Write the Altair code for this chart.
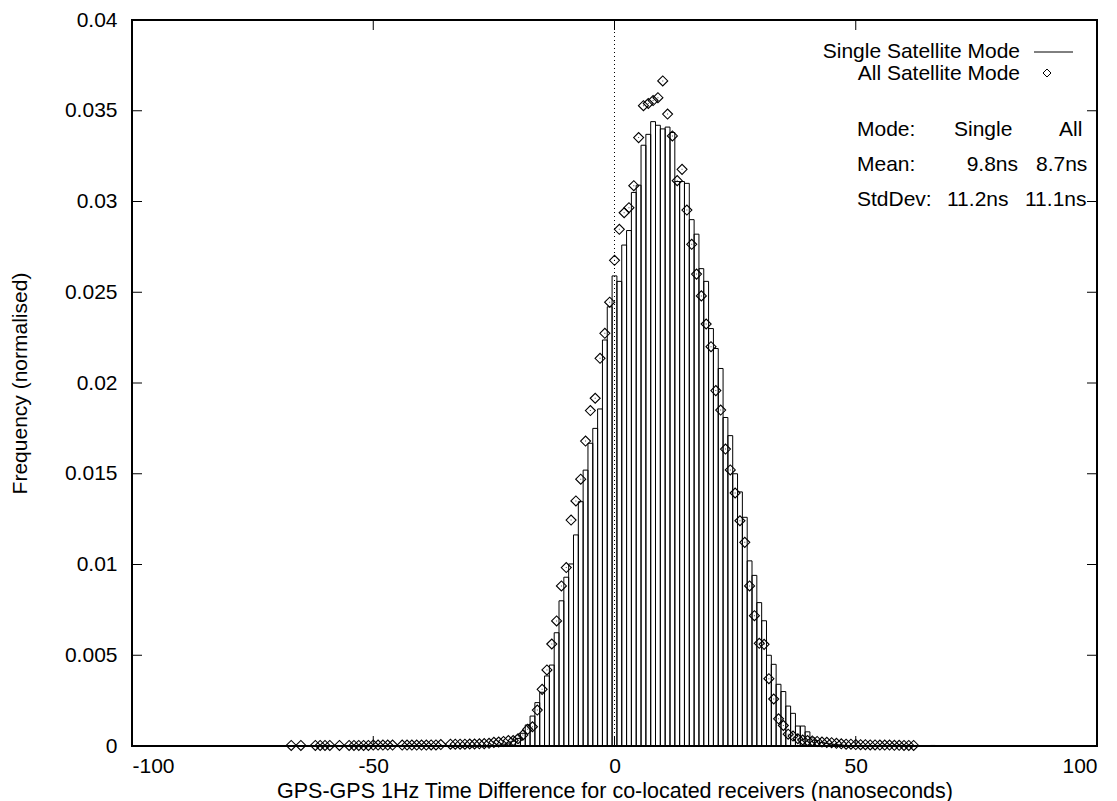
import altair as alt
import pandas as pd

# ---------------- data ----------------
single_ns = list(range(-25, 49)) + [66]
single_freq = [
    0.00003, 0.00005, 0.00010, 0.00016, 0.00026,            # -25..-21
    0.00042, 0.00070, 0.00116, 0.00165, 0.00239,            # -20..-16
    0.00296, 0.00386, 0.00446, 0.00624, 0.00800,            # -15..-11
    0.00930, 0.01003, 0.01163, 0.01346, 0.01520,            # -10..-6
    0.01668, 0.01750, 0.01857, 0.02237, 0.02420,            # -5..-1
    0.02590, 0.02560, 0.02760, 0.02840, 0.03050,            # 0..4
    0.03090, 0.03310, 0.03370, 0.03440, 0.03420,            # 5..9
    0.03400, 0.03410, 0.03380, 0.03110, 0.03110,            # 10..14
    0.03100, 0.02900, 0.02820, 0.02630, 0.02560,            # 15..19
    0.02300, 0.02190, 0.02080, 0.01810, 0.01710,            # 20..24
    0.01500, 0.01400, 0.01260, 0.01020, 0.00940,            # 25..29
    0.00790, 0.00690, 0.00500, 0.00450, 0.00340,            # 30..34
    0.00300, 0.00220, 0.00180, 0.00110, 0.00110,            # 35..39
    0.00078, 0.00045, 0.00030, 0.00020, 0.00015,            # 40..44
    0.00010, 0.00007, 0.00005, 0.00003,                     # 45..48
    0.00003,                                                # 66
]

all_ns = [-67, -65, -62, -61, -60, -59, -57, -55, -54, -53, -52, -51,
          -50, -49, -48, -47, -46, -44, -43, -42, -41, -40, -39, -38, -37,
          -36, -34, -33, -32, -31, -30, -29, -28, -27, -26, -25, -24, -23,
          -22, -21] + list(range(-20, 63))
all_freq = [
    0.00003, 0.00003, 0.00003, 0.00003, 0.00003, 0.00003, 0.00003, 0.00003,
    0.00003, 0.00003, 0.00003, 0.00003,
    0.00005, 0.00005, 0.00005, 0.00005, 0.00005, 0.00005, 0.00005, 0.00005,
    0.00005, 0.00005, 0.00005, 0.00006, 0.00006,
    0.00008, 0.00010, 0.00010, 0.00010, 0.00010, 0.00011, 0.00011, 0.00012,
    0.00013, 0.00015, 0.00020, 0.00022, 0.00025,
    0.00030, 0.00030,
    0.00040, 0.00060, 0.00092, 0.00106, 0.00198,            # -20..-16
    0.00312, 0.00419, 0.00562, 0.00689, 0.00882,            # -15..-11
    0.00983, 0.01245, 0.01350, 0.01470, 0.01680,            # -10..-6
    0.01848, 0.01916, 0.02136, 0.02274, 0.02445,            # -5..-1
    0.02676, 0.02847, 0.02938, 0.02966, 0.03087,            # 0..4
    0.03352, 0.03528, 0.03540, 0.03556, 0.03572,            # 5..9
    0.03664, 0.03482, 0.03361, 0.03115, 0.03177,            # 10..14
    0.02953, 0.02764, 0.02600, 0.02480, 0.02325,            # 15..19
    0.02200, 0.01958, 0.01851, 0.01636, 0.01521,            # 20..24
    0.01394, 0.01241, 0.01122, 0.00882, 0.00718,            # 25..29
    0.00566, 0.00560, 0.00371, 0.00259, 0.00150,            # 30..34
    0.00113, 0.00065, 0.00055, 0.00040, 0.00033,            # 35..39
    0.00030, 0.00028, 0.00025, 0.00022, 0.00020,            # 40..44
    0.00018, 0.00015, 0.00012, 0.00010, 0.00010,            # 45..49
    0.00008, 0.00007, 0.00007, 0.00006, 0.00006,            # 50..54
    0.00005, 0.00005, 0.00005, 0.00004, 0.00004,            # 55..59
    0.00003, 0.00003, 0.00003,                              # 60..62
]

x_ticks = [-100, -50, 0, 50, 100]
y_ticks = [0, 0.005, 0.01, 0.015, 0.02, 0.025, 0.03, 0.035, 0.04]

x_title = "GPS-GPS 1Hz Time Difference for co-located receivers (nanoseconds)"
y_title = "Frequency (normalised)"
legend_labels = ["Single Satellite Mode", "All Satellite Mode"]
stats_rows = [["Mode:", "Single", "All"],
              ["Mean:", "9.8ns", "8.7ns"],
              ["StdDev:", "11.2ns", "11.1ns"]]

# ---------------- layout ----------------
W, H = 965, 726
FONT = "Liberation Sans"
FS = 21
TICK = 10

xs = alt.Scale(domain=[-100, 100], nice=False, zero=False)
ys = alt.Scale(domain=[0, 0.04], nice=False, zero=False)

single_df = pd.DataFrame({"ns": single_ns, "freq": single_freq})
all_df = pd.DataFrame({"ns": all_ns, "freq": all_freq})

x_axis = alt.Axis(
    values=x_ticks, title=x_title, labelExpr="toString(datum.value)",
    labelPadding=9, labelBaseline="top", titleX=W / 2, titleY=51,
    titleAlign="center", titleBaseline="alphabetic", titleFontSize=21.5)
y_axis = alt.Axis(
    values=y_ticks, title=y_title, labelExpr="toString(datum.value)",
    labelPadding=15, titleX=-112, titleY=H / 2, titleAngle=270,
    titleAlign="center", titleBaseline="middle")

bars = alt.Chart(single_df).transform_calculate(
    x0="datum.ns - 0.5", x1="datum.ns + 0.5", zero="0"
).mark_rect(fill="white", fillOpacity=0, stroke="black", strokeWidth=1).encode(
    x=alt.X("x0:Q", scale=xs, axis=x_axis),
    x2="x1:Q",
    y=alt.Y("freq:Q", scale=ys, axis=y_axis),
    y2="zero:Q",
)

zero_line = alt.Chart(pd.DataFrame({"v": [0]})).mark_rule(
    color="black", strokeWidth=1, strokeDash=[1, 3]
).encode(x=alt.X("v:Q", scale=xs), y=alt.value(0), y2=alt.value(H))

pts = alt.Chart(all_df).mark_point(
    shape="diamond", size=100, stroke="black", strokeWidth=1.1, filled=False, opacity=1
).encode(x=alt.X("ns:Q", scale=xs), y=alt.Y("freq:Q", scale=ys))

dots = alt.Chart(all_df).mark_point(
    shape="square", size=1, fill="black", filled=True, opacity=0.7
).encode(x=alt.X("ns:Q", scale=xs), y=alt.Y("freq:Q", scale=ys))

xt = pd.DataFrame({"t": x_ticks})
yt = pd.DataFrame({"t": y_ticks})
tick_bottom = alt.Chart(xt).mark_rule(color="black", strokeWidth=1).encode(
    x=alt.X("t:Q", scale=xs), y=alt.value(H), y2=alt.value(H - TICK))
tick_top = alt.Chart(xt).mark_rule(color="black", strokeWidth=1).encode(
    x=alt.X("t:Q", scale=xs), y=alt.value(0), y2=alt.value(TICK))
tick_left = alt.Chart(yt).mark_rule(color="black", strokeWidth=1).encode(
    y=alt.Y("t:Q", scale=ys), x=alt.value(0), x2=alt.value(TICK))
tick_right = alt.Chart(yt).mark_rule(color="black", strokeWidth=1).encode(
    y=alt.Y("t:Q", scale=ys), x=alt.value(W), x2=alt.value(W - TICK))


def txt(s, x, y, align="left"):
    return alt.Chart(pd.DataFrame({"s": [s]})).mark_text(
        font=FONT, fontSize=FS, color="black", align=align, baseline="alphabetic"
    ).encode(text="s:N", x=alt.value(x), y=alt.value(y))


legend_layers = [
    txt(legend_labels[0], 888, 38, "right"),
    txt(legend_labels[1], 888, 60, "right"),
    alt.Chart(pd.DataFrame({"a": [0]})).mark_rule(color="black", strokeWidth=1).encode(
        x=alt.value(902), x2=alt.value(941), y=alt.value(32)),
    alt.Chart(pd.DataFrame({"a": [0]})).mark_point(
        shape="diamond", size=64, stroke="black", strokeWidth=1, filled=False, opacity=1
    ).encode(x=alt.value(915), y=alt.value(53)),
]

row_y = [116, 151, 186]
stats_layers = []
for i, row in enumerate(stats_rows):
    stats_layers.append(txt(row[0], 725, row_y[i], "left"))
stats_layers += [
    txt(stats_rows[0][1], 822, row_y[0], "left"),
    txt(stats_rows[0][2], 927, row_y[0], "left"),
    txt(stats_rows[1][1], 886, row_y[1], "right"),
    txt(stats_rows[1][2], 904, row_y[1], "left"),
    txt(stats_rows[2][1], 815, row_y[2], "left"),
    txt(stats_rows[2][2], 893, row_y[2], "left"),
]

chart = alt.layer(
    bars, zero_line, pts, dots, tick_bottom, tick_top, tick_left, tick_right,
    *legend_layers, *stats_layers
).properties(
    width=W, height=H,
    autosize=alt.AutoSizeParams(type="none"),
    padding={"left": 132, "top": 20, "right": 20, "bottom": 55},
    background="white",
).configure_view(
    stroke="black", strokeWidth=2
).configure_axis(
    labelFont=FONT, labelFontSize=FS, labelColor="black",
    titleFont=FONT, titleFontSize=FS, titleFontWeight="normal", titleColor="black",
    domain=False, ticks=False, grid=False,
)

chart.save("out.html", embed_options={"renderer": "svg", "actions": False})
